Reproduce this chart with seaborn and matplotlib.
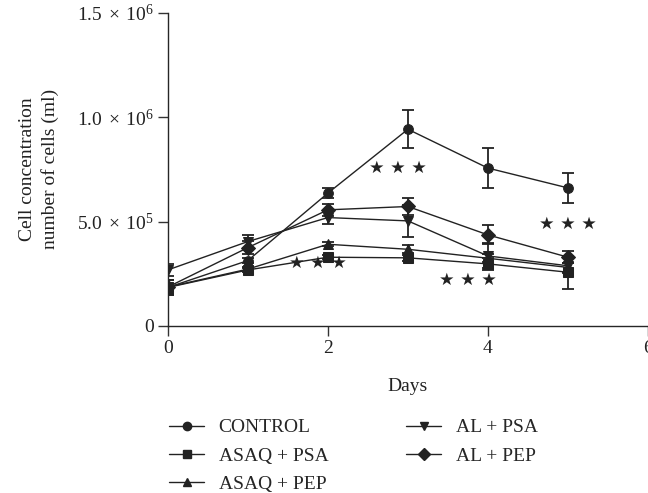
import numpy as np
import pandas as pd
import matplotlib.pyplot as plt
import seaborn as sns
from matplotlib.ticker import FixedLocator, FixedFormatter

# ---------------------------------------------------------
# DATA
# ---------------------------------------------------------
DAYS = [0, 1, 2, 3, 4, 5]
GROUPS = ["CONTROL", "ASAQ + PSA", "ASAQ + PEP", "AL + PSA", "AL + PEP"]

CONTROL = [1.84e5, 3.13e5, 6.36e5, 9.42e5, 7.56e5, 6.61e5]
ASAQ_PSA = [1.84e5, 2.68e5, 3.29e5, 3.26e5, 2.97e5, 2.57e5]
ASAQ_PEP = [1.86e5, 2.72e5, 3.91e5, 3.67e5, 3.24e5, 2.80e5]
AL_PSA = [2.68e5, 4.04e5, 5.19e5, 5.03e5, 3.35e5, 2.88e5]
AL_PEP = [1.86e5, 3.75e5, 5.56e5, 5.72e5, 4.36e5, 3.29e5]

CONTROL_ERR = [0.35e5, 0.12e5, 0.25e5, 0.90e5, 0.95e5, 0.70e5]
ASAQ_PSA_ERR = [0.35e5, 0.10e5, 0.10e5, 0.15e5, 0.30e5, 0.80e5]
ASAQ_PEP_ERR = [0.35e5, 0.10e5, 0.10e5, 0.20e5, 0.20e5, 0.20e5]
AL_PSA_ERR = [0.30e5, 0.30e5, 0.30e5, 0.75e5, 0.60e5, 0.35e5]
AL_PEP_ERR = [0.35e5, 0.30e5, 0.30e5, 0.40e5, 0.45e5, 0.30e5]

MARKERS = ["o", "s", "^", "v", "D"]

# significance stars: (day, value)
STAR_DAYS = [2.87, 1.87, 3.75, 5.0]
STAR_VALUES = [7.55e5, 3.0e5, 2.2e5, 4.9e5]

Y_TICKS = [0, 5e5, 1e6, 1.5e6]
Y_LABELS = ["0", r"$5.0\;\times\;10^{5}$", r"$1.0\;\times\;10^{6}$",
            r"$1.5\;\times\;10^{6}$"]
X_TICKS = [0, 2, 4, 6]

# ---------------------------------------------------------
# STYLE
# ---------------------------------------------------------
sns.set_theme(style="ticks")
plt.rcParams["font.family"] = ["Liberation Serif", "DejaVu Serif"]
plt.rcParams["mathtext.fontset"] = "custom"
plt.rcParams["mathtext.rm"] = "Liberation Serif"
plt.rcParams["mathtext.it"] = "Liberation Serif:italic"
plt.rcParams["axes.linewidth"] = 1.0

INK = "#222222"
FS = 14

values = [CONTROL, ASAQ_PSA, ASAQ_PEP, AL_PSA, AL_PEP]
errors = [CONTROL_ERR, ASAQ_PSA_ERR, ASAQ_PEP_ERR, AL_PSA_ERR, AL_PEP_ERR]

df = pd.DataFrame({
    "day": DAYS * len(GROUPS),
    "value": sum(values, []),
    "err": sum(errors, []),
    "group": np.repeat(GROUPS, len(DAYS)),
})

fig = plt.figure(figsize=(6.48, 4.93), dpi=100)
ax = fig.add_axes([0.259, 0.339, 0.741, 0.635])

for g in GROUPS:
    sub = df[df["group"] == g]
    ax.errorbar(sub["day"], sub["value"], yerr=sub["err"], fmt="none",
                ecolor=INK, elinewidth=1.3, capsize=4, capthick=1.3,
                zorder=2)

sns.lineplot(data=df, x="day", y="value", hue="group", style="group",
             markers=dict(zip(GROUPS, MARKERS)), dashes=False,
             palette=[INK] * len(GROUPS), markersize=7,
             markeredgecolor=INK, linewidth=1.0, legend=False,
             ax=ax, zorder=3)

for d, v in zip(STAR_DAYS, STAR_VALUES):
    ax.text(d, v, "★ ★ ★", ha="center", va="center", fontsize=12.5,
            family=["DejaVu Sans"], color=INK)

ax.set_xlim(0, 6)
ax.set_ylim(0, 1.5e6)
ax.yaxis.set_major_locator(FixedLocator(Y_TICKS))
ax.yaxis.set_major_formatter(FixedFormatter(Y_LABELS))
ax.set_xticks(X_TICKS)
ax.tick_params(labelsize=FS, length=7, width=1.0, color="#333333",
               labelcolor=INK, pad=3)
sns.despine(ax=ax)
ax.set_xlabel("Days", fontsize=FS, labelpad=15, color=INK)
ax.set_ylabel("Cell concentration\nnumber of cells (ml)", fontsize=FS,
              labelpad=13, color=INK, linespacing=1.35)

handles = [plt.Line2D([], [], color=INK, marker=m, markersize=6,
                      linewidth=1.0) for m in MARKERS]
fig.legend(handles, GROUPS, ncol=2, loc="upper left",
           bbox_to_anchor=(0.24, 0.178), frameon=False, fontsize=FS,
           handlelength=1.8, columnspacing=4.0, labelspacing=0.55,
           handletextpad=0.75, borderpad=0.2)

fig.savefig("out.png", dpi=100)
